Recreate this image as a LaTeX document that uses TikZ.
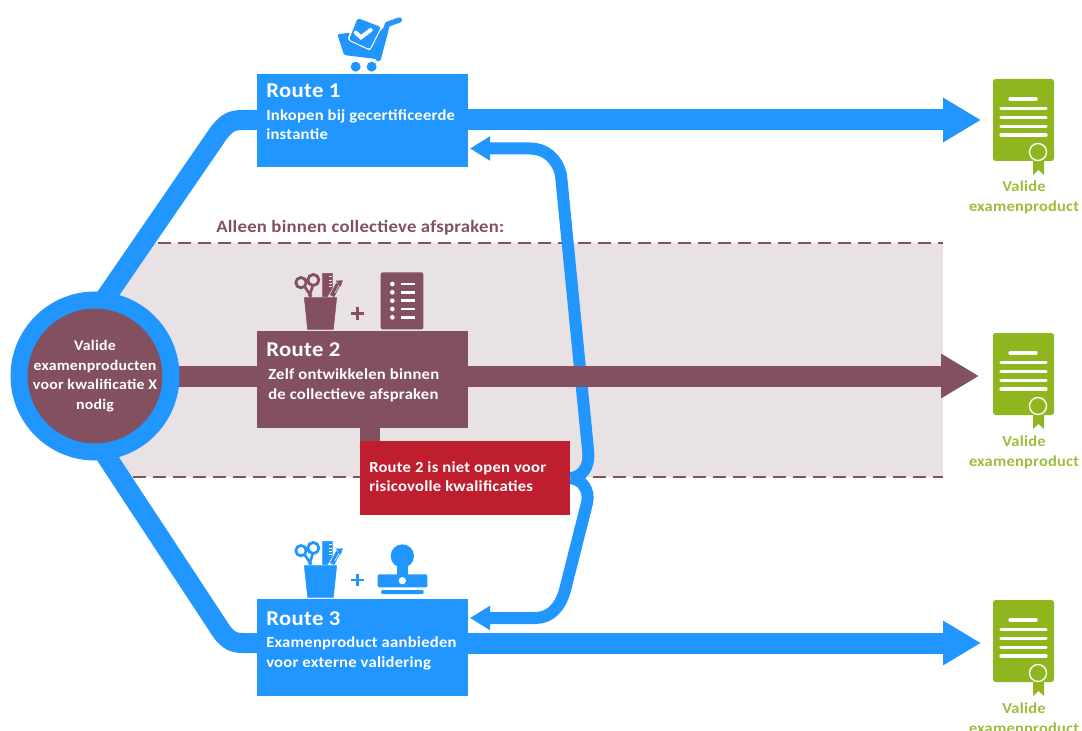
\documentclass[tikz,border=0pt]{standalone}
\usepackage{fontspec}
\setmainfont[FakeStretch=1.08,LetterSpace=1.5]{Carlito}
\usetikzlibrary{arrows.meta}
\definecolor{rblue}{RGB}{33,150,255}
\definecolor{rbrown}{RGB}{130,80,94}
\definecolor{rband}{RGB}{232,226,229}
\definecolor{rred}{RGB}{190,30,45}
\definecolor{rgreen}{RGB}{143,181,31}
\definecolor{rgreentxt}{RGB}{155,189,58}
\pgfdeclarelayer{back}
\pgfsetlayers{back,main}
\tikzset{
  x=.75pt,y=-.75pt,
  routebox/.style={rectangle,minimum width=158.25pt,inner sep=0pt,anchor=north west},
  titletext/.style={anchor=base west,inner sep=0pt,text=white,font=\fontsize{15.8}{18}\selectfont\bfseries},
  bodytext/.style={anchor=base west,inner sep=0pt,text=white,font=\fontsize{11.55}{14}\selectfont\bfseries},
  greentext/.style={anchor=base,inner sep=0pt,text=rgreentxt,font=\fontsize{11.4}{14}\selectfont\bfseries},
  main arrow/.style={line width=15.75pt,-{Triangle[length=28.5pt,width=31.5pt]}},
  back arrow/.style={rblue,line width=9pt,-{Triangle[length=15pt,width=17.25pt]}},
  feed/.style={rblue,line width=15pt},
  icon/.style={x=.25pt,y=-.25pt},
  toolcup/.pic={
    \fill[pic actions] (103,113)--(200,113)--(190,208)--(113,208)--cycle;
    \fill[pic actions] (158,40)--(187,40)--(187,84)--(172,110)--(158,110)--cycle;
    \draw[toolbg,line width=.6pt] (176,50)--(187,50) (176,60)--(187,60) (176,70)--(187,70) (176,80)--(187,80);
    \draw[pic actions,line width=3.6pt] (186,108)--(205,72);
    \fill[pic actions] (199,63)--(217,62)--(212,78)--cycle;
    \draw[toolbg,line width=.4pt] (194,100)--(207,76);
    \draw[pic actions,line width=2.1pt,fill=none] (93,68) circle (15.5) (130,60) circle (16.5);
    \draw[pic actions,line width=2pt] (104,80)--(124,110) (128,77)--(118,110);
  },
  certificate/.pic={
    \fill[rgreen,rounded corners=2pt] (993,79) rectangle (1054,161);
    \fill[rgreen] (1033,160)--(1044,160)--(1044,175)--(1038.5,170)--(1033,175)--cycle;
    \draw[white,line width=2.5pt,line cap=round] (1010,99)--(1036,99)
      (1001,108.5)--(1046,108.5) (1001,117.5)--(1046,117.5)
      (1001,126.5)--(1046,126.5) (1001,135)--(1046,135);
    \draw[white,line width=1pt,fill=rgreen] (1038,152) circle (8.5);
  }
}
\begin{document}
\begin{tikzpicture}
\useasboundingbox (0,0) rectangle (1082,731);
% nodes
\node[routebox,fill=rblue,minimum height=69.75pt] (r1) at (257,74) {};
\node[routebox,fill=rbrown,minimum height=72.75pt] (r2) at (257,331) {};
\node[routebox,fill=rblue,minimum height=72.75pt] (r3) at (257,599) {};
\node[rectangle,fill=rbrown,minimum width=15pt,minimum height=11pt,inner sep=0pt,anchor=north west] (stem) at (360,427) {};
\node[routebox,fill=rred,minimum width=157.5pt,minimum height=55.5pt] (red) at (360,441) {};
\node[circle,fill=rbrown,draw=rblue,line width=12.75pt,minimum size=114pt,inner sep=0pt,text=white,align=center,
  font=\fontsize{11}{14.6}\selectfont\bfseries] (c) at (95,376)
  {Valide\\examenproducten\\voor kwalificatie X\\nodig};
\node[titletext] (t1) at (266,98) {Route 1};
\node[bodytext] (b1a) at (266,120.5) {Inkopen bij gecertificeerde};
\node[bodytext] (b1b) at (266,140) {instantie};
\node[titletext] (t2) at (266,356) {Route 2};
\node[bodytext] (b2a) at (268,379) {Zelf ontwikkelen binnen};
\node[bodytext] (b2b) at (268,399) {de collectieve afspraken};
\node[titletext] (t3) at (266,625) {Route 3};
\node[bodytext] (b3a) at (266,647) {Examenproduct aanbieden};
\node[bodytext] (b3b) at (266,667) {voor externe validering};
\node[bodytext] (ra) at (369,472) {Route 2 is niet open voor};
\node[bodytext] (rb) at (369,491) {risicovolle kwalificaties};
\node[bodytext,text=rbrown,font=\fontsize{13}{14}\selectfont\bfseries] (hdr) at (216,233) {Alleen binnen collectieve afspraken:};
\foreach \n/\dy in {1/0,2/254,3/521}{
  \pic at (0,\dy) {certificate};
  \node[greentext] (v\n) at (1024,192+\dy) {Valide};
  \node[greentext] (e\n) at (1024,212+\dy) {examenproduct};
}
\coordinate (tip1) at (981,120);
\coordinate (tip2) at (979,376);
\coordinate (tip3) at (981,643);
\coordinate (up1) at (470,148.5);
\coordinate (up3) at (470,618);
\coordinate (f1) at (95,313);
\coordinate (f3) at (95,439);
% connectors
\begin{pgfonlayer}{back}
\fill[rband] (143,243)--(943,243)--(943,477)--(122,477)--(95,440)--(95,310)--cycle;
\draw[rbrown,line width=1.5pt,dash pattern=on 9.75pt off 5.25pt] (158,243)--(943,243) (133,477)--(943,477);
\draw[feed] (f1)--(218,134) .. controls (228,120) and (235,120) .. (245,120) -- (r1.center |- tip1);
\draw[feed] (f3)--(218,626) .. controls (228,642.5) and (235,643) .. (245,643) -- (r3.center |- tip3);
\draw[main arrow,rblue] (r1.center |- tip1)--(tip1);
\draw[main arrow,rblue] (r3.center |- tip3)--(tip3);
\draw[back arrow] (red.east) .. controls (582,476.5) and (590,468) .. (588,450) -- (561,175) .. controls (557,158) and (545,148.5) .. (530,148.5) -- (up1);
\draw[back arrow] (red.east) .. controls (582,479) and (590,490) .. (587,503) -- (565,590) .. controls (560,608) and (550,618) .. (535,618) -- (up3);
\draw[main arrow,rbrown] (c.center)--(tip2);
\end{pgfonlayer}
% icons
\begin{scope}[shift={(270,0)},icon]
\fill[rblue,rounded corners=1pt] (202,103)--(240,98)--(232,118)--(300,152)--(325,100)--(350,72)--(325,178)--(222,165)--cycle;
\draw[rblue,line width=4pt,line cap=round,line join=round] (388,60)--(352,73)--(325,176);
\fill[rblue,draw=white,line width=.7pt,rounded corners=2pt] (262,52)--(335,80)--(300,150)--(235,120)--cycle;
\draw[white,line width=3pt,line cap=round] (257,98)--(273,112)--(302,90);
\fill[rblue] (257,200) circle (15) (305,200) circle (15);
\end{scope}
\colorlet{toolbg}{rband}
\begin{scope}[shift={(270,260)},icon]
\pic[rbrown,draw=rbrown,fill=rbrown] {toolcup};
\draw[rbrown,line width=2pt] (243,160)--(281,160) (262,141)--(262,179);
\fill[rbrown,rounded corners=1.5pt] (332,37) rectangle (460,208);
\foreach \yy in {72,97,122,147,172}{
  \fill[white] (367,\yy) circle (7);
  \draw[white,line width=2pt] (392,\yy)--(434,\yy);
}
\end{scope}
\colorlet{toolbg}{white}
\begin{scope}[shift={(270,530)},icon]
\pic[rblue,draw=rblue,fill=rblue] at (0,-6) {toolcup};
\draw[rblue,line width=2pt] (243,150)--(281,150) (262,131)--(262,169);
\fill[rblue] (397,78) circle (35);
\fill[rblue] (380,100) rectangle (415,140);
\fill[rblue,rounded corners=1pt] (323,133) rectangle (472,172);
\fill[white] (397,152) circle (11);
\fill[rblue,rounded corners=1pt] (333,180) rectangle (461,192);
\end{scope}
\end{tikzpicture}
\end{document}
